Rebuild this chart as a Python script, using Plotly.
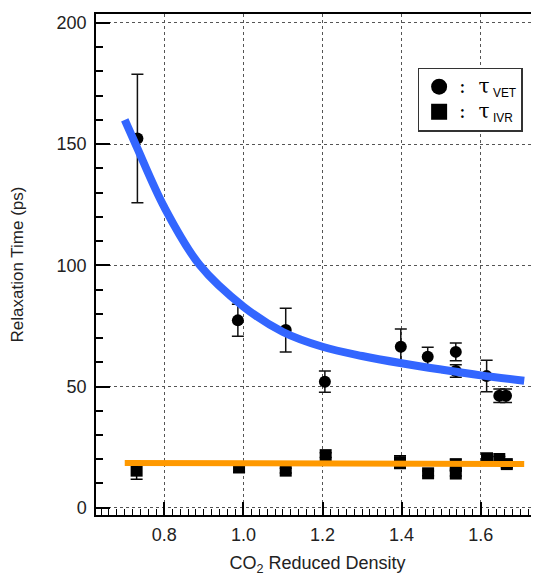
import plotly.graph_objects as go

# ---- data ----
vet_x = [0.732, 0.986, 1.107, 1.206, 1.398, 1.466, 1.537, 1.537, 1.615, 1.647, 1.664]
vet_y = [152.3, 77.3, 73.3, 52.0, 66.4, 62.3, 64.3, 56.4, 54.3, 46.2, 46.2]
vet_err = [26.5, 6.6, 9.0, 4.4, 7.3, 3.9, 3.7, 2.6, 6.5, 2.8, 2.8]

ivr_x = [0.730, 0.989, 1.107, 1.208, 1.396, 1.467, 1.537, 1.537, 1.616, 1.647, 1.666]
ivr_y = [15.3, 16.6, 15.3, 21.7, 18.8, 14.2, 17.8, 14.1, 20.1, 20.1, 18.0]
ivr_err = [3.5, 2.0, 1.0, 1.0, 2.6, 1.0, 2.3, 1.0, 2.5, 1.0, 1.5]

vet_fit_x = [0.70, 0.73, 0.80, 0.89, 1.00, 1.10, 1.20, 1.30, 1.40, 1.50, 1.60, 1.71]
vet_fit_y = [160.0, 149.0, 124.0, 100.0, 83.0, 72.5, 66.4, 62.6, 59.6, 57.0, 54.6, 52.4]

ivr_fit_x = [0.70, 1.71]
ivr_fit_y = [18.5, 18.0]

x_title = "CO<sub>2</sub> Reduced Density"
y_title = "Relaxation Time (ps)"

FONT = "Liberation Sans, Arial, sans-serif"
TXT = "#222222"

fig = go.Figure()

fig.add_trace(go.Scatter(
    x=vet_x, y=vet_y, mode="markers", showlegend=False,
    marker=dict(symbol="circle", size=12, color="black"),
    error_y=dict(type="data", array=vet_err, color="#111111", thickness=1.5, width=6),
))
fig.add_trace(go.Scatter(
    x=ivr_x, y=ivr_y, mode="markers", showlegend=False,
    marker=dict(symbol="square", size=12, color="black"),
    error_y=dict(type="data", array=ivr_err, color="black", thickness=1.5, width=6),
))
fig.add_trace(go.Scatter(
    x=vet_fit_x, y=vet_fit_y, mode="lines", showlegend=False,
    line=dict(color="#3366ff", width=8, shape="spline"),
))
fig.add_trace(go.Scatter(
    x=ivr_fit_x, y=ivr_fit_y, mode="lines", showlegend=False,
    line=dict(color="#ff9900", width=6),
))

# legend entries
fig.add_trace(go.Scatter(
    x=[None], y=[None], mode="markers",
    name="<span style='font-family:DejaVu Serif;font-size:20px'>:  τ</span><sub> VET</sub>",
    marker=dict(symbol="circle", size=16, color="black"),
))
fig.add_trace(go.Scatter(
    x=[None], y=[None], mode="markers",
    name="<span style='font-family:DejaVu Serif;font-size:20px'>:  τ</span><sub> IVR</sub>",
    marker=dict(symbol="square", size=16, color="black"),
))

xr = [0.6273, 1.7474]
yr = [-3.0, 203.7]

# the page body adds an 8px offset; size the figure so the plot area lands where the reference has it
fig.update_layout(
    width=531, height=568,
    margin=dict(l=88, r=0, t=6, b=61, autoexpand=False),
    paper_bgcolor="white", plot_bgcolor="white",
    font=dict(family=FONT, size=18, color=TXT),
    legend=dict(
        x=0.726, y=0.893, xanchor="left", yanchor="top",
        bgcolor="white", bordercolor="#333333", borderwidth=1.5,
        font=dict(family=FONT, size=17, color="black"),
        itemwidth=30, tracegroupgap=4,
    ),
    xaxis=dict(
        range=xr, showline=True, linecolor="black", linewidth=1.5, mirror=True,
        automargin=False,
        ticks="inside", ticklen=13, tickwidth=1.5, tickcolor="black",
        tick0=0, dtick=0.2, tickformat=".1f", ticklabelstandoff=3,
        minor=dict(ticks="inside", dtick=0.02, ticklen=6, tickwidth=1, tickcolor="black", showgrid=False),
        showgrid=True, gridcolor="#555555", griddash="dot", gridwidth=1,
        zeroline=False,
        title=dict(text=x_title, font=dict(size=18, color=TXT), standoff=12),
    ),
    xaxis2=dict(
        range=xr, overlaying="x", side="bottom", anchor="y",
        automargin=False,
        ticks="inside", ticklen=10, tickwidth=1.5, tickcolor="black",
        tick0=0, dtick=0.1, showticklabels=False, showgrid=False,
        showline=False, zeroline=False,
    ),
    yaxis=dict(
        range=yr, showline=True, linecolor="black", linewidth=1.5, mirror=False,
        automargin=False,
        ticks="inside", ticklen=14, tickwidth=2, tickcolor="black",
        tick0=0, dtick=50, ticklabelstandoff=4,
        minor=dict(ticks="inside", dtick=10, ticklen=7, tickwidth=1.5, tickcolor="black", showgrid=False),
        showgrid=True, gridcolor="#555555", griddash="dot", gridwidth=1,
        zeroline=False,
        title=dict(text=y_title, font=dict(size=17, color=TXT), standoff=29),
    ),
)

fig.write_html("out.html")
